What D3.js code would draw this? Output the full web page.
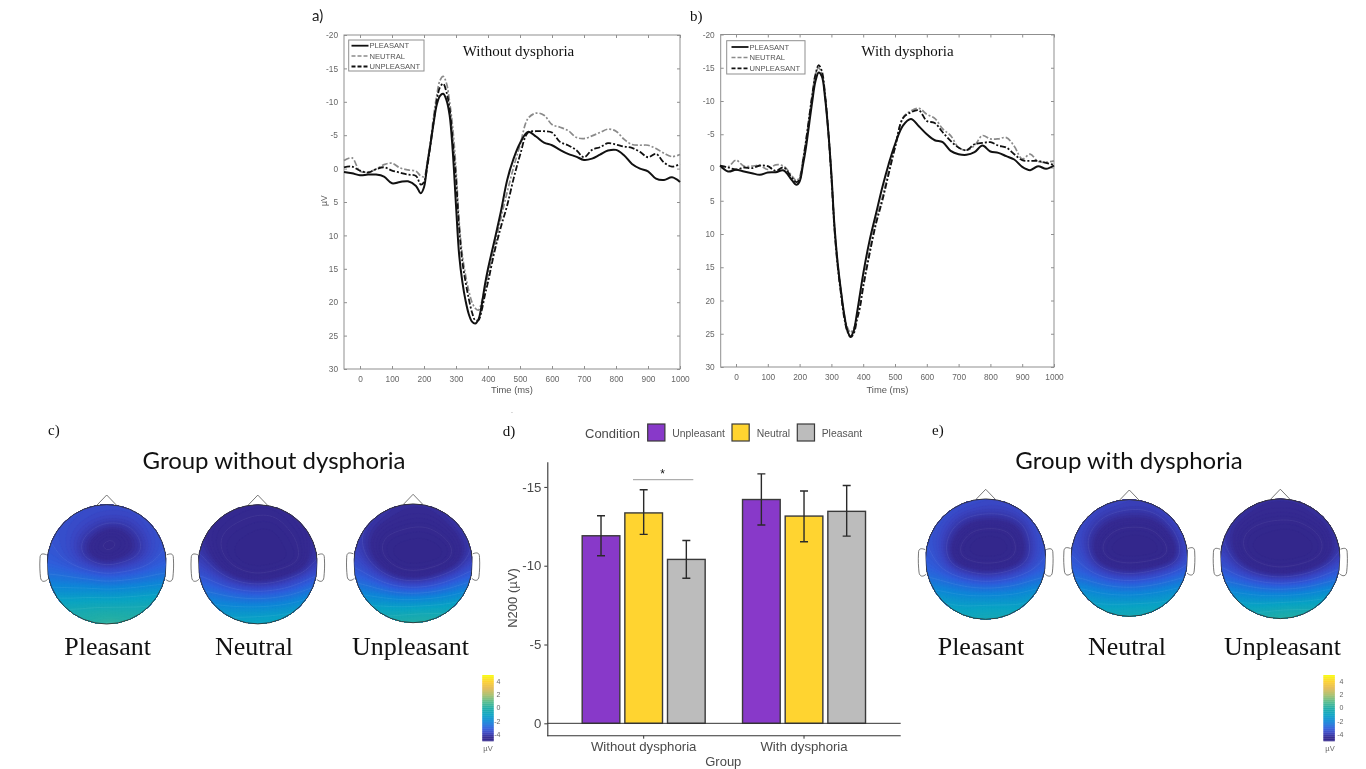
<!DOCTYPE html>
<html><head><meta charset="utf-8"><title>ERP chart</title>
<script src="https://cdn.jsdelivr.net/npm/d3@7/dist/d3.min.js"></script>
<style>html,body{margin:0;padding:0;background:#fff}svg{display:block;filter:blur(.45px)}</style></head>
<body><svg id="c" width="1366" height="769"></svg>
<script>
// ---------- DATA ----------
const times = [-50,-25,0,25,50,75,100,125,150,175,190,200,210,220,230,240,250,260,270,280,290,300,310,320,330,340,350,360,370,380,390,400,420,440,460,480,500,525,550,575,600,625,650,675,700,725,750,775,800,825,850,875,900,925,950,975,1000];
const aPleasant = [.5,.7,1,.9,.9,1.2,2.2,2,1.9,2.6,3.7,2.8,-.6,-3.6,-6.8,-9.6,-10.9,-11.2,-10.3,-8,-2.5,5.5,13,17,19.8,21.8,22.9,23.2,22.6,20.5,17.5,15,10.8,6.5,1.7,-1.5,-3.8,-5.5,-4.8,-3.9,-3.5,-2.8,-2.2,-1.8,-1.3,-1.5,-2.1,-2.7,-2.8,-2,-.7,0,.4,1.5,1.7,1.3,2];
const aNeutral = [-1.2,-1.6,.4,.5,.1,-.6,-.8,-.1,.2,.4,1.1,1.2,-.8,-4,-7.8,-11,-13.2,-13.8,-12.8,-10,-6,0,8,13,16,18.3,20,20.9,21.2,20,18,16,11.8,7.5,3.5,-.2,-3.5,-7.5,-8.3,-8,-6.6,-6.2,-5.7,-4.7,-4.5,-4.9,-5.4,-5.9,-5.6,-4.4,-3.6,-3.5,-3.5,-3,-2.3,-1.8,-2.1];
const aUnpleasant = [-.2,-.3,.3,.6,.1,-.2,.3,.6,.9,1.1,2.4,2,-.2,-3.5,-7,-10.2,-12.2,-12.7,-11.5,-9,-4,1.5,9,14,17,19.5,21.5,22.7,22.7,21.3,19,17,12.5,8.8,5.5,1.5,-2,-5.4,-5.6,-5.6,-5.4,-4,-3.5,-2.8,-1.7,-2.8,-3.2,-3.8,-3.6,-3.3,-3.1,-2.5,-1.7,-2.2,-.9,-.3,-.7];
const bPleasant = [-.3,.6,.35,.6,.85,1.1,.75,.7,.45,1.85,2.6,2.1,-.2,-3,-6.5,-10,-13,-14.3,-13.7,-10.5,-5.5,1,9,14.5,18.5,22,24.5,25.4,24.6,22,19,16,11,7,3,-.5,-3.5,-6.3,-7.3,-6.2,-5,-4.1,-3.8,-2.5,-2,-1.9,-2.3,-3.3,-2.4,-2.2,-1.7,-1.2,-.1,.4,-.2,.2,-.3];
const bNeutral = [-.3,-.1,-1.1,-.2,-.2,-.3,.3,-.4,-.2,1.2,2,1.4,-1,-4,-7.5,-11,-14,-15,-14,-11,-6,1,9,14.5,18.5,22,24,24.8,24.2,22.5,20.5,17.5,12.5,8,4.5,.5,-3,-7.5,-8.5,-8.9,-8,-7.4,-5.8,-4.8,-3,-2.6,-3.3,-4.8,-4.3,-4.3,-4.5,-3.2,-1.3,-2,-.9,-.8,-1];
const bUnpleasant = [-.3,0,.3,0,.1,-.3,-.2,.5,0,1.5,2.2,1.8,-.8,-4,-7.5,-11,-14,-15.4,-14.5,-11,-5.5,1.5,9.5,15,19,22.5,24.6,25.5,25,23,21,18,13,8.5,5,1,-3,-7.4,-8.3,-8.6,-7,-6.7,-5.3,-4,-3,-2.6,-3.5,-3.7,-3.8,-3.3,-3,-2,-1.1,-1,-1,-.7,-.4];
const erpLegend = ["PLEASANT","NEUTRAL","UNPLEASANT"];
const erpYTicks = [-20,-15,-10,-5,0,5,10,15,20,25,30];
const erpXTicks = [0,100,200,300,400,500,600,700,800,900,1000];

const barGroups = ["Without dysphoria","With dysphoria"];
const barConditions = ["Unpleasant","Neutral","Pleasant"];
const barMeans = [[-11.9,-13.35,-10.4],[-14.2,-13.15,-13.45]];
const barErrTop = [[-13.17,-14.82,-11.6],[-15.83,-14.74,-15.09]];
const barErrBottom = [[-10.63,-11.99,-9.2],[-12.58,-11.52,-11.88]];
const barYTicks = [0,-5,-10,-15];
const barColors = ["#8839c9","#ffd430","#bcbcbc"];

const colorTicks = [4,2,0,-2,-4];
// topographic values: rows run front to back, columns left to right
const mapC1 = [
[-3.4,-3.4,-3.4,-3.5,-3.5,-3.5,-3.5,-3.4,-3.3],
[-3.4,-3.4,-3.5,-3.6,-3.7,-3.7,-3.6,-3.4,-3.3],
[-3.3,-3.4,-3.7,-4.1,-4.8,-4.7,-4,-3.5,-3.3],
[-3.2,-3.4,-3.8,-4.8,-5,-4.7,-4.4,-3.6,-3.2],
[-3,-3.2,-3.5,-3.9,-4.3,-4,-3.7,-3.3,-3],
[-2.4,-2.4,-2.5,-2.6,-2.8,-2.7,-2.6,-2.4,-2.3],
[-1.5,-1.5,-1.5,-1.4,-1.5,-1.4,-1.3,-1.2,-1.1],
[-.4,-.4,-.4,-.3,-.3,-.3,-.3,-.2,-.2],
[.1,.1,.1,.2,.5,.4,.2,.1,.1]];
const mapC2 = [
[-4.4,-4.4,-4.4,-4.5,-4.5,-4.5,-4.4,-4.3,-4.2],
[-4.3,-4.4,-4.6,-4.7,-4.8,-4.8,-4.6,-4.3,-4],
[-4.1,-4.6,-4.8,-4.9,-5,-5,-4.8,-4.6,-4],
[-3.9,-4.6,-4.9,-5,-5,-5,-4.9,-4.7,-3.9],
[-3.6,-4.2,-4.8,-5,-5,-5,-5,-4.8,-3.7],
[-3.1,-3.4,-4,-4.5,-4.7,-4.5,-4.1,-3.5,-3],
[-2.4,-2.5,-2.7,-2.9,-3,-2.9,-2.7,-2.4,-2],
[-1.5,-1.6,-1.7,-1.7,-1.7,-1.6,-1.5,-1.2,-.8],
[-.6,-.7,-.7,-.7,-.6,-.6,-.5,-.4,-.3]];
const mapC3 = [
[-3.7,-3.8,-4,-4.2,-4.2,-4.2,-4.1,-3.8,-3.6],
[-3.7,-3.9,-4.2,-4.4,-4.5,-4.5,-4.3,-3.9,-3.6],
[-3.7,-4.2,-4.7,-4.8,-4.9,-4.9,-4.7,-4.3,-3.7],
[-3.6,-4.3,-4.9,-5,-5,-5,-5,-4.7,-3.8],
[-3.3,-3.9,-4.7,-5,-5,-5,-5,-4.5,-3.5],
[-2.9,-3.1,-3.7,-4.4,-4.6,-4.4,-3.8,-3.2,-2.8],
[-1.9,-2.1,-2.3,-2.5,-2.6,-2.5,-2.3,-2,-1.7],
[-.9,-1,-1,-1.1,-1,-.9,-.8,-.6,-.3],
[0,-.1,0,.2,.3,.3,.1,0,-.1]];
const mapE1 = [
[-3.2,-3.2,-3.3,-3.4,-3.5,-3.5,-3.4,-3.3,-3.2],
[-3.2,-3.3,-3.6,-3.8,-3.9,-3.9,-3.7,-3.4,-3.2],
[-3.2,-3.5,-4.1,-4.8,-4.9,-4.9,-4.6,-3.7,-3.2],
[-3.2,-3.6,-4.7,-5,-5,-5,-4.9,-3.9,-3.2],
[-3.1,-3.4,-4.8,-5,-5,-5,-4.9,-3.9,-3.1],
[-2.8,-3,-3.4,-4,-4.3,-4.1,-3.6,-3.1,-2.8],
[-1.9,-2,-2.2,-2.3,-2.4,-2.3,-2.2,-1.9,-1.8],
[-.7,-1,-1.2,-1.3,-1.2,-1.2,-1.2,-1,-.4],
[-.5,-.5,-.5,-.4,-.3,-.3,-.4,-.5,-.5]];
const mapE2 = [
[-3.4,-3.4,-3.5,-3.6,-3.7,-3.7,-3.6,-3.4,-3.3],
[-3.4,-3.5,-3.8,-4,-4.1,-4.1,-3.9,-3.5,-3.3],
[-3.4,-3.7,-4.3,-4.8,-4.9,-4.9,-4.7,-3.9,-3.3],
[-3.3,-3.9,-4.8,-5,-5,-5,-5,-4.6,-3.3],
[-3.2,-3.5,-4.8,-5,-5,-5,-5,-4.8,-3.2],
[-2.9,-3.1,-3.6,-4.2,-4.4,-4.2,-3.8,-3.2,-2.9],
[-1.9,-2,-2.3,-2.4,-2.5,-2.4,-2.2,-2,-1.8],
[-.8,-1.1,-1.3,-1.4,-1.4,-1.3,-1.2,-1,-.5],
[-.5,-.5,-.5,-.3,-.2,-.2,-.4,-.5,-.5]];
const mapE3 = [
[-3.9,-3.9,-4.1,-4.2,-4.2,-4.2,-4.1,-3.9,-3.8],
[-3.9,-4,-4.3,-4.5,-4.5,-4.5,-4.3,-4,-3.8],
[-3.8,-4.4,-4.8,-4.9,-5,-5,-4.8,-4.5,-3.7],
[-3.7,-4.6,-5,-5,-5,-5,-5,-4.8,-3.9],
[-3.4,-4.2,-4.9,-5,-5,-5,-5,-4.7,-3.6],
[-3,-3.4,-4,-4.5,-4.7,-4.5,-4.1,-3.4,-3],
[-2,-2.1,-2.3,-2.5,-2.6,-2.5,-2.3,-2,-1.8],
[-1,-1.1,-1.2,-1.2,-1.1,-1,-.9,-.7,-.5],
[0,-.1,0,.2,.4,.4,.2,0,-.1]];

// ---------- DRAW ----------
const svg = d3.select("#c");
const SERIF = "'Liberation Serif',serif", SANS = "'Liberation Sans',Arial,sans-serif";
const parulaDomain = [-5,-4.35,-3.7,-3,-2,-1,0,1,2,3,4,5];
const parula = ["#33278c","#352a92","#3a45c2","#2f5fdc","#0f86d8","#0aa3c4","#20ada8","#59bd8c","#a5be6b","#e1b952","#fcce2e","#f9fb0e"];
const color = d3.scaleLinear().domain(parulaDomain).range(parula).clamp(true);
const txt = (x,y,s,o={}) => svg.append("text").attr("x",x).attr("y",y).text(s)
  .attr("font-family",o.f||SERIF).attr("font-size",o.s||14).attr("fill",o.c||"#111")
  .attr("text-anchor",o.a||"start").attr("transform",o.r?`rotate(${o.r} ${x} ${y})`:null);

function erp(cfg){
  const x = d3.scaleLinear().domain([0,1000]).range([cfg.x0,cfg.x1]);
  const y = d3.scaleLinear().domain([-20,30]).range([cfg.yt,cfg.yb]);
  const g = svg.append("g");
  const grey="#8f8f8f";
  const dress = a => {a.select(".domain").remove();a.selectAll("line").attr("stroke",grey);a.selectAll("text").attr("fill","#666").attr("font-size",8.3).attr("font-family",SANS);};
  g.append("g").attr("transform",`translate(${cfg.left},0)`).call(d3.axisLeft(y).tickValues(erpYTicks).tickSize(-3).tickPadding(6).tickFormat(String)).call(dress);
  g.append("g").attr("transform",`translate(${cfg.x1},0)`).call(d3.axisRight(y).tickValues(erpYTicks).tickSize(-3).tickFormat("")).call(dress);
  g.append("g").attr("transform",`translate(0,${cfg.yb})`).call(d3.axisBottom(x).tickValues(erpXTicks).tickSize(-3).tickPadding(7).tickFormat(String)).call(dress);
  g.append("g").attr("transform",`translate(0,${cfg.yt})`).call(d3.axisTop(x).tickValues(erpXTicks).tickSize(-3).tickFormat("")).call(dress);
  g.append("rect").attr("x",cfg.left).attr("y",cfg.yt).attr("width",cfg.x1-cfg.left).attr("height",cfg.yb-cfg.yt).attr("fill","none").attr("stroke",grey);
  const line = d3.line().x((d,i)=>x(times[i])).y(d=>y(d)).curve(d3.curveCatmullRom);
  const styles = [
    {c:"#8a8a8a",w:1.7,d:"6 2 2 2"},
    {c:"#111",w:2,d:null},
    {c:"#111",w:1.8,d:"6 2 2 2"}];
  [cfg.series[1],cfg.series[0],cfg.series[2]].forEach((s,i)=>{
    g.append("path").datum(s).attr("d",line).attr("fill","none").attr("stroke",styles[i].c)
     .attr("stroke-width",styles[i].w).attr("stroke-dasharray",styles[i].d).attr("stroke-linejoin","round");
  });
  const lb=cfg.legend;
  g.append("rect").attr("x",lb.x).attr("y",lb.y).attr("width",lb.w).attr("height",lb.h).attr("fill","#fff").attr("stroke",grey);
  const ls=[{c:"#111",w:1.8,d:null},{c:"#8a8a8a",w:1.5,d:"4 2"},{c:"#111",w:1.8,d:"4 2"}];
  erpLegend.forEach((t,i)=>{
    const yy=lb.ys[i];
    g.append("line").attr("x1",lb.lx0).attr("x2",lb.lx0+17).attr("y1",yy).attr("y2",yy).attr("stroke",ls[i].c).attr("stroke-width",ls[i].w).attr("stroke-dasharray",ls[i].d);
    txt(lb.lx0+18,yy+2.7,t,{f:SANS,s:7.6,c:"#555"});
  });
  txt((cfg.left+cfg.x1)/2,393,"Time (ms)",{f:SANS,s:9.4,c:"#555",a:"middle"});
}
erp({left:344,x0:360,x1:680,yt:35,yb:369,series:[aPleasant,aNeutral,aUnpleasant],
  legend:{x:348.7,y:40,w:75.3,h:31,lx0:351.5,ys:[45.7,56,66.5]}});
erp({left:720.7,x0:736,x1:1054,yt:34.5,yb:367,series:[bPleasant,bNeutral,bUnpleasant],
  legend:{x:726.7,y:40.7,w:78.3,h:33.3,lx0:731.5,ys:[47,57.5,68.3]}});
txt(327,206,"\u00b5V",{f:SANS,s:8.5,c:"#555",r:-90});
txt(312,21,"a)",{f:"Lato",s:15,c:"#222"});
txt(690,21,"b)",{s:15});
txt(518.5,55.5,"Without dysphoria",{s:15,a:"middle"});
txt(907.5,55.5,"With dysphoria",{s:15,a:"middle"});
txt(48,435,"c)",{s:15});txt(502.7,435.5,"d)",{s:15});txt(932,435,"e)",{s:15});
txt(274,469,"Group without dysphoria",{f:"Lato",s:24,a:"middle"});
txt(1129,469,"Group with dysphoria",{f:"Lato",s:24,a:"middle"});
txt(511,413,".",{f:SANS,s:7,c:"#777"});

// topographic maps: the value grid is resampled for rendering smooth filled contours
function resample(m,f){
  const n=m.length, N=(n-1)*f+1, out=new Float64Array(N*N);
  for(let j=0;j<N;j++)for(let i=0;i<N;i++){
    const gx=i/f,gy=j/f,x0=Math.min(n-2,Math.floor(gx)),y0=Math.min(n-2,Math.floor(gy)),tx=gx-x0,ty=gy-y0;
    out[j*N+i]=d3.interpolateNumber(d3.interpolateNumber(m[y0][x0],m[y0][x0+1])(tx),d3.interpolateNumber(m[y0+1][x0],m[y0+1][x0+1])(tx))(ty);
  }
  return {grid:d3.blur2({data:out,width:N,height:N},f*.4).data,N};
}
function head(id,m,cx,cy,r,label,lx){
  const f=5,{grid,N}=resample(m,f), k=r/((m.length-1)/2)/f, mid=(N-1)/2+.5;
  svg.append("clipPath").attr("id",id).append("circle").attr("cx",cx).attr("cy",cy).attr("r",r);
  const proj = d3.geoTransform({point(px,py){this.stream.point(cx+(px-mid)*k,cy+(py-mid)*k);}});
  const path = d3.geoPath(proj);
  const step=.1, levels=d3.range(-5,5,step);
  const g = svg.append("g").attr("clip-path",`url(#${id})`);
  g.append("circle").attr("cx",cx).attr("cy",cy).attr("r",r).attr("fill",color(-5));
  d3.contours().size([N,N]).thresholds(levels)(Array.from(grid)).forEach((c,i)=>{
    if(!c.coordinates.length) return;
    const on = i%7===3, fc=color(c.value+step/2);
    g.append("path").attr("d",path(c)).attr("fill",fc)
      .attr("stroke",on?d3.interpolateRgb(fc,"#fff")(.1):fc).attr("stroke-width",on?.6:.3);
  });
  svg.append("circle").attr("cx",cx).attr("cy",cy).attr("r",r).attr("fill","none").attr("stroke","#333").attr("stroke-width",.9);
  const nose=d3.path();nose.moveTo(cx-10,cy-r+.8);nose.lineTo(cx,cy-r-9.6);nose.lineTo(cx+10,cy-r+.8);
  svg.append("path").attr("d",nose.toString()).attr("fill","none").attr("stroke","#555").attr("stroke-width",.8);
  [-1,1].forEach(s=>{
    const e=d3.path(), xe=cx+s*(r+.3), xo=cx+s*(r+7);
    e.moveTo(xe,cy-9.5);
    e.bezierCurveTo(xe+s*4,cy-11,xo,cy-11,xo,cy-6);
    e.bezierCurveTo(xo+s*.5,cy+2,xo,cy+8,xo-s*.5,cy+13);
    e.bezierCurveTo(xo-s*1,cy+18,xe+s*2,cy+18,xe-s*1,cy+15);
    svg.append("path").attr("d",e.toString()).attr("fill","#fff").attr("stroke","#555").attr("stroke-width",.8);
  });
  txt(lx,655,label,{s:26,a:"middle"});
}
head("h1",mapC1,106.7,564.3,59.7,"Pleasant",107.7);
head("h2",mapC2,257.8,564.3,59.6,"Neutral",254);
head("h3",mapC3,413.1,563.3,59.4,"Unpleasant",410.5);
head("h4",mapE1,985.7,559.1,60.2,"Pleasant",981);
head("h5",mapE2,1129.3,558,58.4,"Neutral",1127);
head("h6",mapE3,1280.3,558.7,59.9,"Unpleasant",1282.5);

// colour bars
function colorbar(x,w,labelX,unitX){
  const cy=d3.scaleLinear().domain([-5,5]).range([741,675]);
  d3.range(-5,5,.1).forEach(v=>svg.append("rect").attr("x",x).attr("width",w).attr("y",cy(v+.1)).attr("height",cy(v)-cy(v+.1)+.3).attr("fill",color(v+.05)));
  colorTicks.forEach(t=>txt(labelX,cy(t)+2.4,String(t),{f:SANS,s:7,c:"#666",a:"end"}));
  txt(unitX,751,"\u00b5V",{f:SANS,s:7.5,c:"#666",a:"middle"});
}
colorbar(482.3,11.4,500.5,488);
colorbar(1323.4,11.4,1343.5,1330);

// bar chart
const by = d3.scaleLinear().domain([.786,-16.6]).range([735.7,461.7]);
const bx = d3.scaleBand().domain(barGroups).range([563.5,884.2]).paddingInner(.233).paddingOuter(.1165);
const bx2 = d3.scaleBand().domain(barConditions).range([0,bx.bandwidth()]).paddingInner(.117).paddingOuter(0);
const bw = svg.append("g");
barGroups.forEach((g,gi)=>barConditions.forEach((c,ci)=>{
  const x=bx(g)+bx2(c), w=bx2.bandwidth();
  bw.append("rect").attr("x",x).attr("width",w).attr("y",by(barMeans[gi][ci])).attr("height",by(0)-by(barMeans[gi][ci]))
    .attr("fill",barColors[ci]).attr("stroke","#3a3a3a").attr("stroke-width",1.4);
  const mx=x+w/2, t=by(barErrTop[gi][ci]), b=by(barErrBottom[gi][ci]);
  bw.append("path").attr("d",`M${mx-4},${t}H${mx+4}M${mx},${t}V${b}M${mx-4},${b}H${mx+4}`).attr("fill","none").attr("stroke","#2a2a2a").attr("stroke-width",1.4);
}));
bw.append("line").attr("x1",547.3).attr("x2",900.7).attr("y1",by(0)).attr("y2",by(0)).attr("stroke","#333").attr("stroke-width",1);
const dressB = a=>{a.selectAll("path,line").attr("stroke","#333");a.select(".domain").attr("stroke-width",1.1);a.selectAll("text").attr("fill","#4a4a4a").attr("font-family",SANS).attr("font-size",13.2);};
svg.append("g").attr("transform","translate(547.3,0)").call(d3.axisLeft(by).tickValues(barYTicks).tickSizeInner(3).tickSizeOuter(0).tickPadding(3).tickFormat(String)).call(dressB);
svg.append("line").attr("x1",547.3).attr("x2",900.7).attr("y1",735.7).attr("y2",735.7).attr("stroke","#333").attr("stroke-width",1.1);
const bxAxis=svg.append("g").attr("transform","translate(0,735.7)").call(d3.axisBottom(bx).tickSizeInner(3).tickSizeOuter(0).tickPadding(3)).call(dressB);
bxAxis.select(".domain").remove();
txt(723.3,766,"Group",{f:SANS,s:13,c:"#4a4a4a",a:"middle"});
txt(516.5,598,"N200 (\u00b5V)",{f:SANS,s:13,c:"#4a4a4a",a:"middle",r:-90});
svg.append("line").attr("x1",633).attr("x2",693.3).attr("y1",479.7).attr("y2",479.7).attr("stroke","#9a9a9a");
txt(662.7,478,"*",{f:SANS,s:12,c:"#111",a:"middle"});
txt(585,438,"Condition",{f:SANS,s:13,c:"#4a4a4a"});
[[647.7,672.3],[732,756.7],[797.3,821.7]].forEach((p,i)=>{
  svg.append("rect").attr("x",p[0]).attr("y",424).attr("width",17.2).attr("height",17).attr("fill",barColors[i]).attr("stroke","#3a3a3a").attr("stroke-width",1.2);
  txt(p[1],436.5,barConditions[i],{f:SANS,s:10.4,c:"#555"});
});
</script></body></html>
